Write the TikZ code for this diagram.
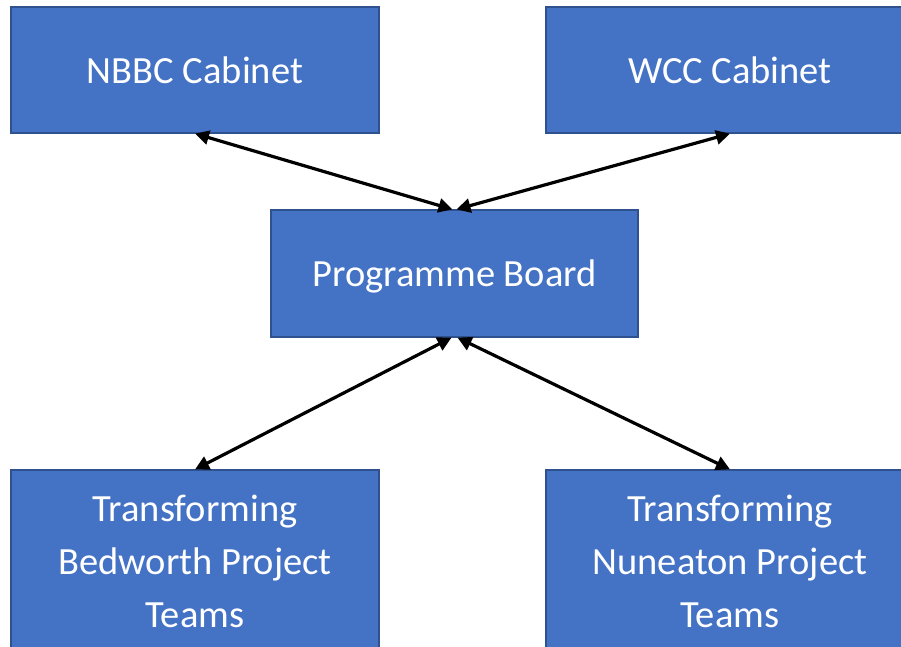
\documentclass[tikz,border=0pt]{standalone}
\usepackage{fontspec}
\setmainfont{Carlito}
\usetikzlibrary{arrows.meta}
\definecolor{boxfill}{HTML}{4472C4}
\definecolor{boxline}{HTML}{2F528F}
\begin{document}
\begin{tikzpicture}[x=1pt,y=-1pt,
  box/.style={draw=boxline, line width=1.2pt, fill=boxfill, text=white,
    font=\fontsize{38.5}{53}\selectfont, align=center, inner sep=0pt,
    minimum width=368pt, minimum height=126pt},
  link/.style={line width=3.2pt, draw=black,
    {Triangle[length=14pt,width=14pt]}-{Triangle[length=14pt,width=14pt]}}]
  \useasboundingbox (0,0) rectangle (901,646);
  \clip (0,0) rectangle (901,646);
  % governance boxes
  \node[box] (nbbc) at (195,70) {NBBC Cabinet};
  \node[box] (wcc) at (730,70) {WCC Cabinet};
  \node[box, minimum width=367pt, minimum height=127pt, text height=28pt, text depth=2pt] (pb) at (454.5,273.5) {Programme Board};
  \node[box, minimum height=182pt] (bed) at (195,561) {Transforming\\Bedworth Project\\Teams};
  \node[box, minimum height=182pt] (nun) at (730,561) {Transforming\\Nuneaton Project\\Teams};
  % two-way reporting lines
  \draw[link] (nbbc.south) -- ([xshift=-2pt]pb.north);
  \draw[link] (wcc.south) -- ([xshift=2pt]pb.north);
  \draw[link] ([xshift=-3pt]pb.south) -- (bed.north);
  \draw[link] ([xshift=3pt]pb.south) -- (nun.north);
\end{tikzpicture}
\end{document}
